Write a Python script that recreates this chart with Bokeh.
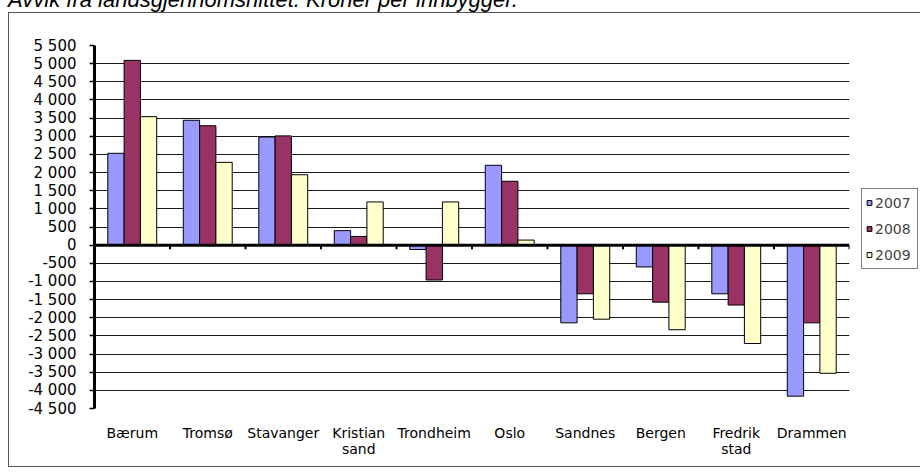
from bokeh.plotting import figure
from bokeh.models import (ColumnDataSource, FixedTicker, Span, Div,
                          Legend, LegendItem, FactorRange)
from bokeh.layouts import column
from bokeh.transform import dodge
from bokeh.embed import file_html
from bokeh.resources import INLINE

# ---- data ----
categories = ["Bærum", "Tromsø", "Stavanger", "Kristian\nsand", "Trondheim",
              "Oslo", "Sandnes", "Bergen", "Fredrik\nstad", "Drammen"]
years = ["2007", "2008", "2009"]
v2007 = [2530, 3440, 2980, 400, -120, 2200, -2140, -600, -1340, -4160]
v2008 = [5090, 3290, 3010, 240, -960, 1760, -1340, -1570, -1650, -2140]
v2009 = [3540, 2280, 1940, 1190, 1190, 140, -2040, -2330, -2710, -3530]
y_ticks = list(range(-4500, 5501, 500))
title_text = "Avvik fra landsgjennomsnittet. Kroner per innbygger."

colors = ["#9999FF", "#993366", "#FFFFCC"]
FONT = "DejaVu Sans"

source = ColumnDataSource(data=dict(cat=categories, v2007=v2007, v2008=v2008, v2009=v2009))

p = figure(x_range=FactorRange(*categories, range_padding=0, factor_padding=0),
           y_range=(y_ticks[0], y_ticks[-1]),
           frame_width=754, frame_height=361, output_backend="svg", toolbar_location=None,
           min_border_left=85, min_border_right=71, min_border_top=32, min_border_bottom=60)
p.margin = 0
p.styles = {"border-left": "1px solid #555555", "border-top": "1px solid #555555",
            "border-bottom": "1px solid #555555"}
p.background_fill_color = "white"
p.border_fill_color = "white"
p.outline_line_color = None

bw = 0.216
offsets = [-bw, 0.0, bw]
for yr, off, col in zip(years, offsets, colors):
    p.vbar(x=dodge("cat", off, range=p.x_range), top="v" + yr, width=bw, source=source,
           fill_color=col, line_color="black", line_width=1)

# zero line
p.add_layout(Span(location=0, dimension="width", line_color="black", line_width=3))

# small tick marks at category boundaries on the zero line
bounds = list(range(1, len(categories) + 1))
p.segment(x0=bounds, y0=[0] * len(bounds), x1=bounds, y1=[-110] * len(bounds),
          line_color="black", line_width=2)

# axes
p.yaxis.ticker = FixedTicker(ticks=y_ticks)
p.yaxis.major_label_overrides = {t: f"{t:,}".replace(",", " ") for t in y_ticks}
p.yaxis.axis_line_width = 3
p.yaxis.axis_line_color = "black"
p.yaxis.major_tick_out = 5
p.yaxis.major_tick_in = 0
p.yaxis.major_tick_line_width = 1.5
p.yaxis.minor_tick_line_color = None
p.yaxis.major_label_standoff = 13
p.yaxis.major_label_text_font = FONT
p.yaxis.major_label_text_font_size = "15px"
p.yaxis.major_label_text_color = "black"

p.xaxis.axis_line_color = None
p.xaxis.major_tick_line_color = None
p.xaxis.minor_tick_line_color = None
p.xaxis.major_label_standoff = 10
p.xaxis.major_label_text_font = FONT
p.xaxis.major_label_text_font_size = "14px"
p.xaxis.major_label_text_line_height = 1.0
p.xaxis.major_label_text_color = "black"

p.xgrid.visible = False
p.ygrid.ticker = FixedTicker(ticks=y_ticks)
p.ygrid.grid_line_color = "#1a1a1a"
p.ygrid.grid_line_width = 1

# legend (proxies without visible points)
items = []
for yr, col in zip(years, colors):
    rr = p.scatter(x=[categories[0]], y=[float("nan")], marker="square", size=5,
                   fill_color=col, line_color="black", line_width=1)
    items.append(LegendItem(label=yr, renderers=[rr]))
legend = Legend(items=items, location=(12, 139), padding=1, spacing=1, margin=0,
                label_height=25, glyph_height=25, glyph_width=12, label_standoff=0,
                label_width=41,
                label_text_font=FONT, label_text_font_size="14px",
                border_line_color="black", border_line_width=1,
                background_fill_color="white", background_fill_alpha=1)
p.add_layout(legend, "right")

title = Div(text=title_text, width=910, height=23, margin=0,
            styles={"font-family": "Liberation Sans", "font-style": "italic",
                    "font-size": "22px", "line-height": "21px", "white-space": "nowrap",
                    "color": "black"})

layout = column(title, p, spacing=0, margin=(-11, 0, 0, 8))

open("out.html", "w").write(file_html(layout, INLINE))
